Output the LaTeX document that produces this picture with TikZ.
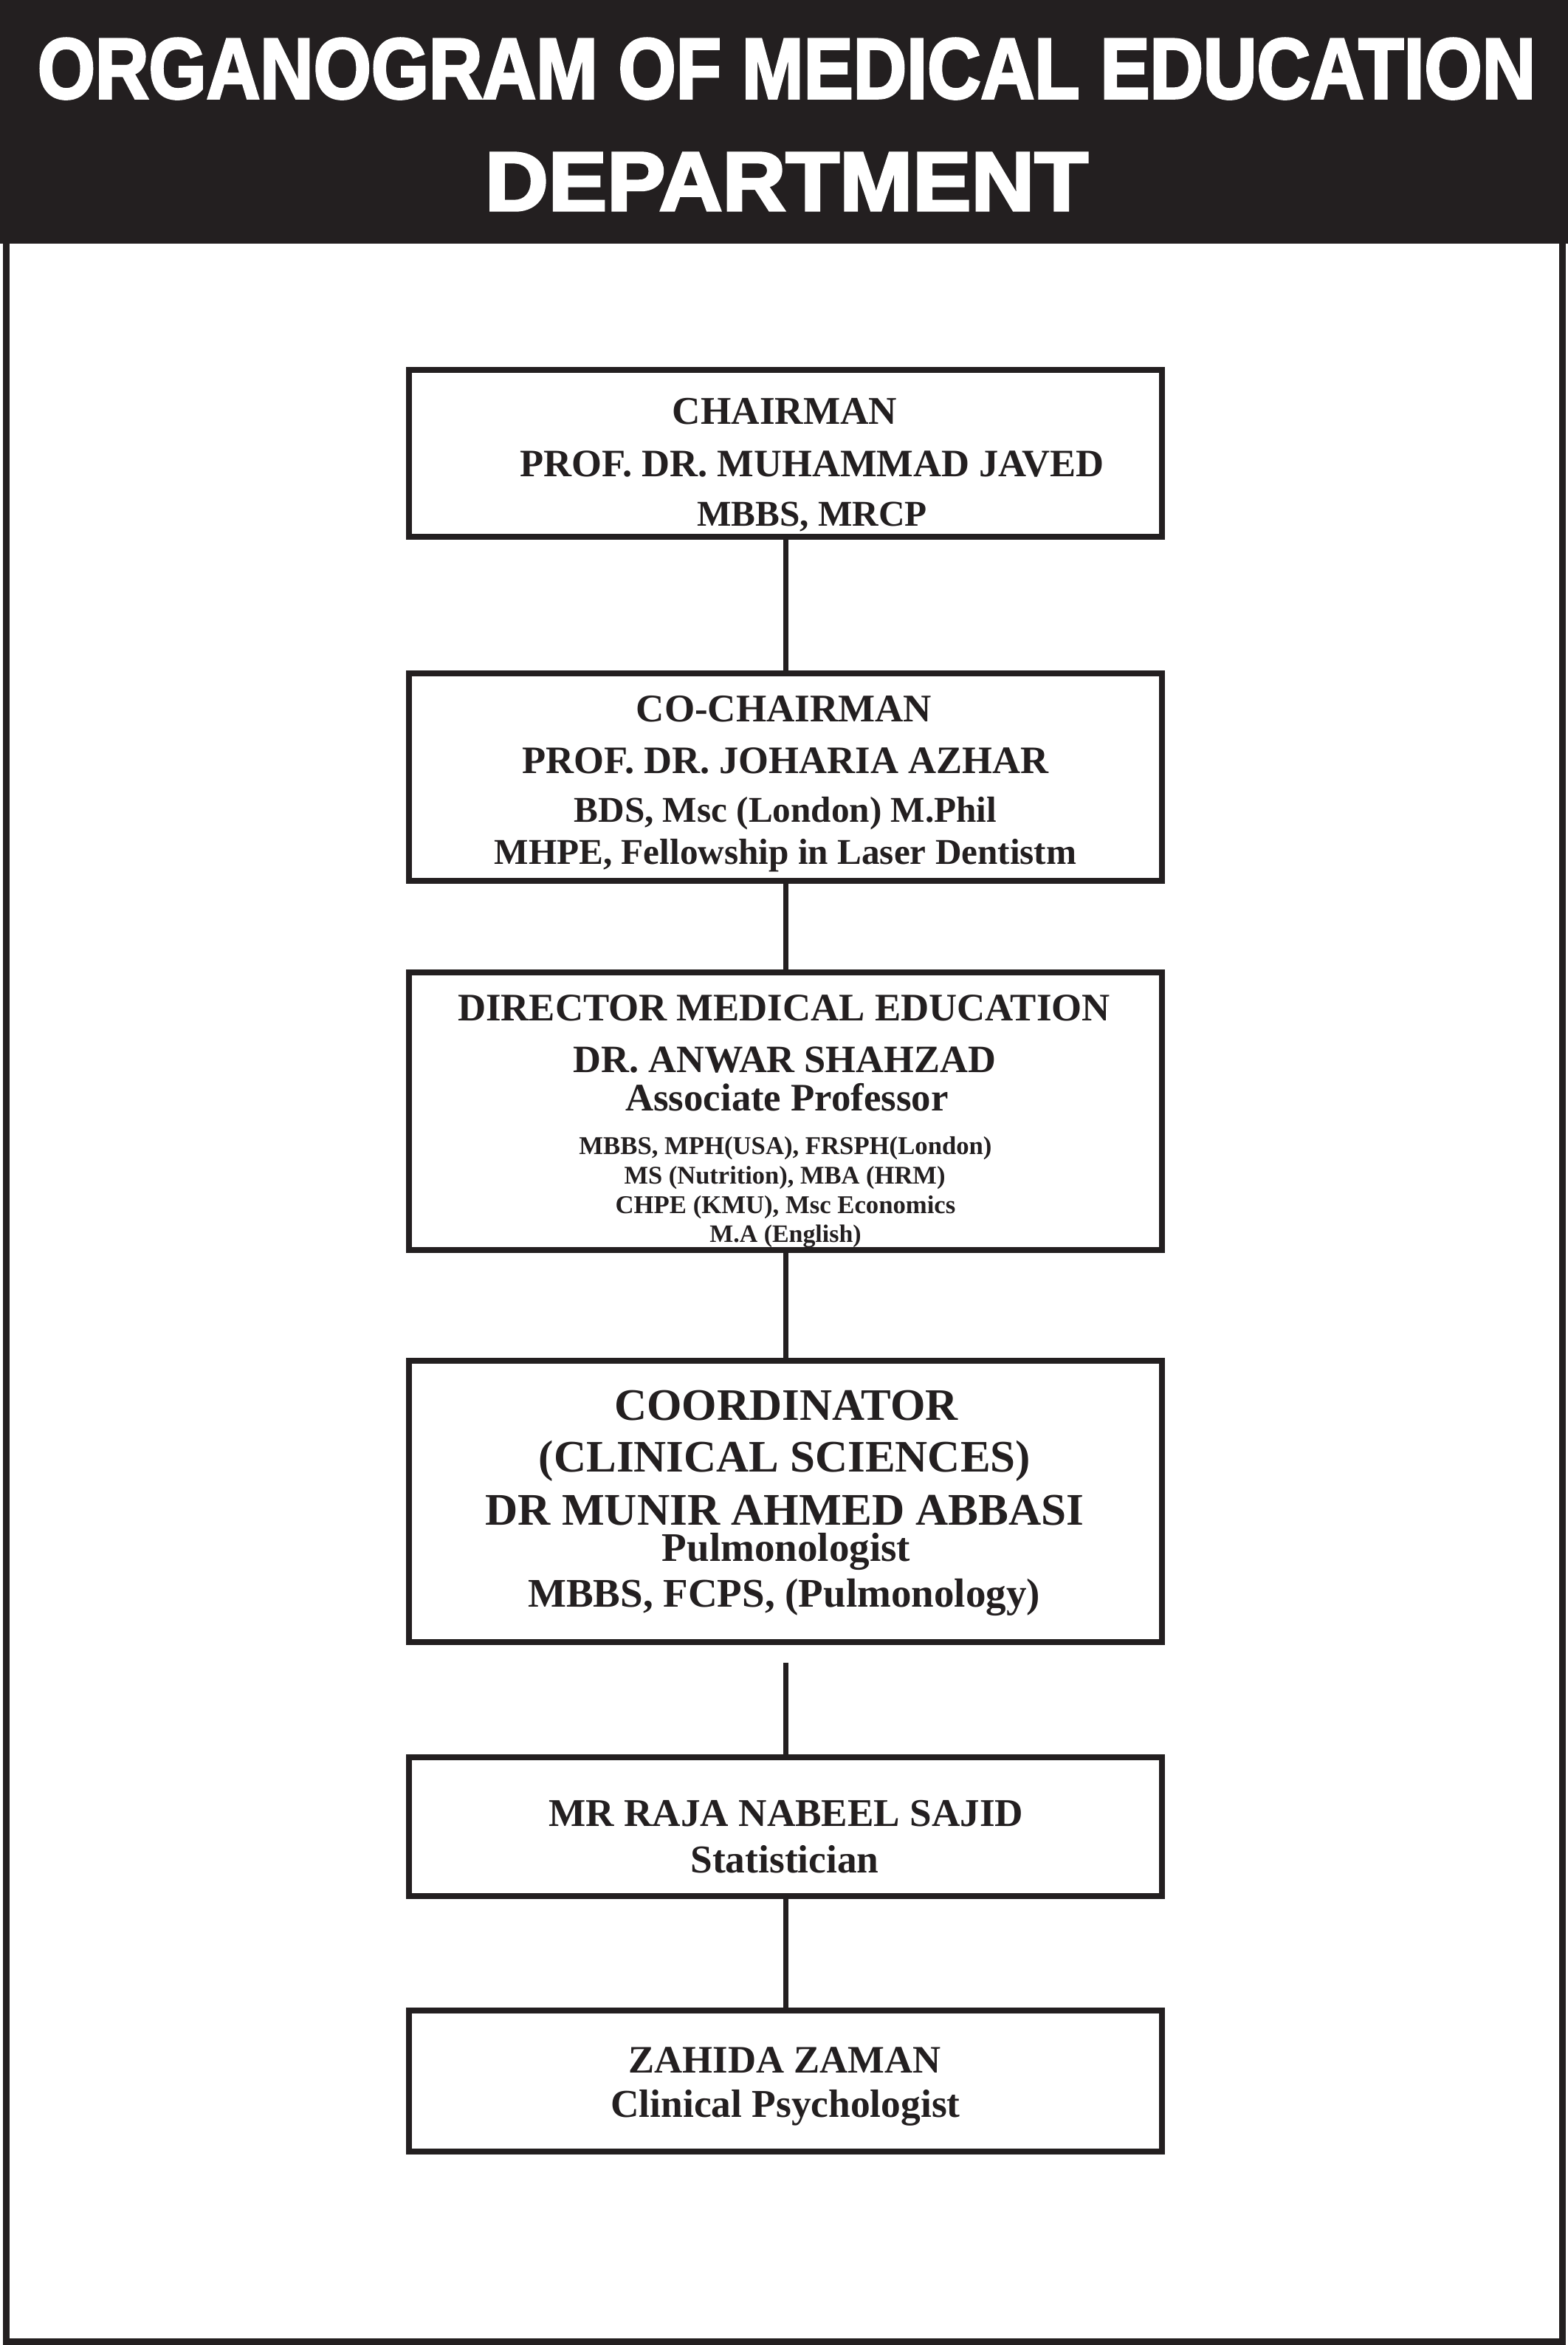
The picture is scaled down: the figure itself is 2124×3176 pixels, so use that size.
\documentclass[tikz,border=0pt]{standalone}
\usepackage{fontspec}
\setmainfont{Liberation Serif}
\newfontfamily\bannerfont{Liberation Sans}[UprightFeatures={FakeBold=3}, BoldFeatures={FakeBold=3}]
\definecolor{ink}{HTML}{231F20}
\newcommand\fsz[1]{\fontsize{#1}{#1}\selectfont\bfseries}
\tikzset{
  boxnode/.style={draw=ink, line width=4pt, rectangle, minimum width=510pt, inner sep=0pt},
  lbl/.style={anchor=base, inner sep=0pt, text=ink},
  link/.style={draw=ink, line width=3.5pt},
  banner/.style={anchor=base, inner sep=0pt, text=white}
}
\begin{document}
\begin{tikzpicture}[x=0.5pt,y=-0.5pt]
\useasboundingbox (0,0) rectangle (2124,3176);
% outer frame
\draw[ink, line width=4.5pt] (8.5,160) rectangle (2116,3171.5);
% banner
\fill[ink] (0,0) rectangle (2124,330);
\node[banner] (title1) at (1065.5,133) {\resizebox{1014.5pt}{40.5pt}{\bannerfont\bfseries ORGANOGRAM OF MEDICAL EDUCATION}};
\node[banner] (title2) at (1065.5,285) {\resizebox{408.5pt}{39pt}{\bannerfont\bfseries DEPARTMENT}};
% boxes
\node[boxnode, minimum height=113pt] (b1) at (1064,614) {};
\node[boxnode, minimum height=140.5pt] (b2) at (1064,1052.5) {};
\node[boxnode, minimum height=188pt] (b3) at (1064,1505) {};
\node[boxnode, minimum height=190.5pt] (b4) at (1064,2033.5) {};
\node[boxnode, minimum height=94pt] (b5) at (1064,2474) {};
\node[boxnode, minimum height=95.5pt] (b6) at (1064,2818.5) {};
% connectors
\coordinate (c4) at (1064,2252);
\draw[link] (b1.south) -- (b2.north);
\draw[link] (b2.south) -- (b3.north);
\draw[link] (b3.south) -- (b4.north);
\draw[link] (c4) -- (b5.north);
\draw[link] (b5.south) -- (b6.north);
% box 1
\node[lbl] (t1a) at (1063,574) {\fsz{26.6}CHAIRMAN};
\node[lbl] (t1b) at (1100,645) {\fsz{26.3}PROF. DR. MUHAMMAD JAVED};
\node[lbl] (t1c) at (1100,712) {\fsz{24.6}MBBS, MRCP};
% box 2
\node[lbl] (t2a) at (1062,977) {\fsz{26.5}CO-CHAIRMAN};
\node[lbl] (t2b) at (1064,1047) {\fsz{26.3}PROF. DR. JOHARIA AZHAR};
\node[lbl] (t2c) at (1064,1113) {\fsz{24.6}BDS, Msc (London) M.Phil};
\node[lbl] (t2d) at (1064,1170) {\fsz{24.6}MHPE, Fellowship in Laser Dentistm};
% box 3
\node[lbl] (t3a) at (1062,1382) {\fsz{26.4}DIRECTOR MEDICAL EDUCATION};
\node[lbl] (t3b) at (1063,1452) {\fsz{26.2}DR. ANWAR SHAHZAD};
\node[lbl] (t3c) at (1066,1504) {\fsz{26.4}Associate Professor};
\node[lbl] (t3d) at (1064,1563) {\fsz{17.35}MBBS, MPH(USA), FRSPH(London)};
\node[lbl] (t3e) at (1063,1603) {\fsz{17.25}MS (Nutrition), MBA (HRM)};
\node[lbl] (t3f) at (1064,1643) {\fsz{17.35}CHPE (KMU), Msc Economics};
\node[lbl] (t3g) at (1064,1682) {\fsz{16.95}M.A (English)};
% box 4
\node[lbl] (t4a) at (1065,1923) {\fsz{30.5}COORDINATOR};
\node[lbl] (t4b) at (1063,1993) {\fsz{30.5}(CLINICAL SCIENCES)};
\node[lbl] (t4c) at (1063,2065) {\fsz{30.6}DR MUNIR AHMED ABBASI};
\node[lbl] (t4d) at (1065,2114) {\fsz{27.5}Pulmonologist};
\node[lbl] (t4e) at (1062,2176) {\fsz{27.5}MBBS, FCPS, (Pulmonology)};
% box 5
\node[lbl] (t5a) at (1065,2473) {\fsz{26.6}MR RAJA NABEEL SAJID};
\node[lbl] (t5b) at (1063,2536) {\fsz{26.7}Statistician};
% box 6
\node[lbl] (t6a) at (1063,2807) {\fsz{26.35}ZAHIDA ZAMAN};
\node[lbl] (t6b) at (1064,2867) {\fsz{26.7}Clinical Psychologist};
\end{tikzpicture}
\end{document}
